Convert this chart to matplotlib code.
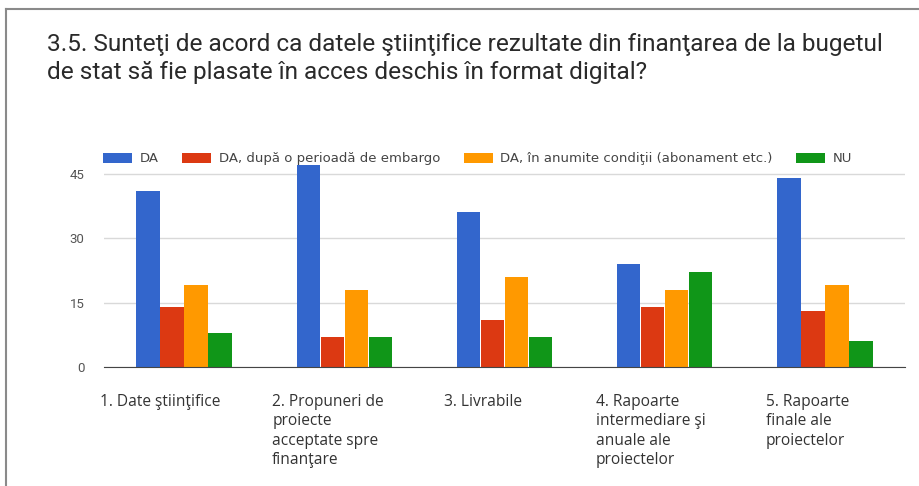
import numpy as np
import matplotlib
matplotlib.use("Agg")
import matplotlib.pyplot as plt
from matplotlib.lines import Line2D

# data
categories = ["1. Date ştiinţifice",
              "2. Propuneri de\nproiecte\nacceptate spre\nfinanţare",
              "3. Livrabile",
              "4. Rapoarte\nintermediare şi\nanuale ale\nproiectelor",
              "5. Rapoarte\nfinale ale\nproiectelor"]
series_names = ["DA", "DA, după o perioadă de embargo",
                "DA, în anumite condiţii (abonament etc.)", "NU"]
da = [41, 47, 36, 24, 44]
da_embargo = [14, 7, 11, 14, 13]
da_conditii = [19, 18, 21, 18, 19]
nu = [8, 7, 7, 22, 6]
yticks = [0, 15, 30, 45]

colors = ["#3366cc", "#dc3912", "#ff9900", "#109618"]
label_offsets = [-0.525, -0.45, -0.38, -0.43, -0.37]

W, H = 919, 486
fig = plt.figure(figsize=(W / 100, H / 100), dpi=100)
fig.patch.set_facecolor("white")

# frame of the card
fig.add_artist(Line2D([6 / W, 6 / W], [0, 1 - 9 / H], color="#8a8a8a", lw=1.5))
fig.add_artist(Line2D([6 / W, 1], [1 - 9 / H, 1 - 9 / H], color="#8a8a8a", lw=1.5))

fig.text(47 / W, 1 - 33 / H,
         "3.5. Sunteţi de acord ca datele ştiinţifice rezultate din finanţarea de la bugetul\n"
         "de stat să fie plasate în acces deschis în format digital?",
         fontsize=17.6, family="Roboto", color="#2a2a2a", va="top", ha="left",
         linespacing=1.28)

ax = fig.add_axes([104 / W, 0.245, 801 / W, 0.424])
x = np.arange(len(categories))
w = 0.15
all_series = [da, da_embargo, da_conditii, nu]
for i, (vals, c, name) in enumerate(zip(all_series, colors, series_names)):
    ax.bar(x + (i - 1.5) * w, vals, width=w * 0.97, color=c, label=name, zorder=3)

ax.set_xlim(-0.5, 4.5)
ax.set_ylim(0, 48)
ax.set_yticks(yticks)
ax.set_yticklabels([str(v) for v in yticks], fontsize=9.5, color="#555555", family="Roboto")
ax.tick_params(axis="y", length=0, pad=14)
ax.set_xticks([])
ax.grid(axis="y", color="#d9d9d9", lw=1, zorder=0)
for s in ["top", "right", "left"]:
    ax.spines[s].set_visible(False)
ax.spines["bottom"].set_color("#444444")
ax.spines["bottom"].set_zorder(4)

for i, lab in enumerate(categories):
    ax.text(i + label_offsets[i], -6.2, lab, ha="left", va="top",
            family="Open Sans", fontsize=11.2, color="#333333", linespacing=1.3)

leg = ax.legend(loc="center left", bbox_to_anchor=(-0.0075, 1.01), ncol=4, frameon=False,
                handlelength=2.2, handleheight=0.75, columnspacing=1.8,
                handletextpad=0.55, borderaxespad=0.0,
                prop={"family": "DejaVu Sans", "size": 9.5})
for t in leg.get_texts():
    t.set_color("#444444")

fig.savefig("out.png", dpi=100)
